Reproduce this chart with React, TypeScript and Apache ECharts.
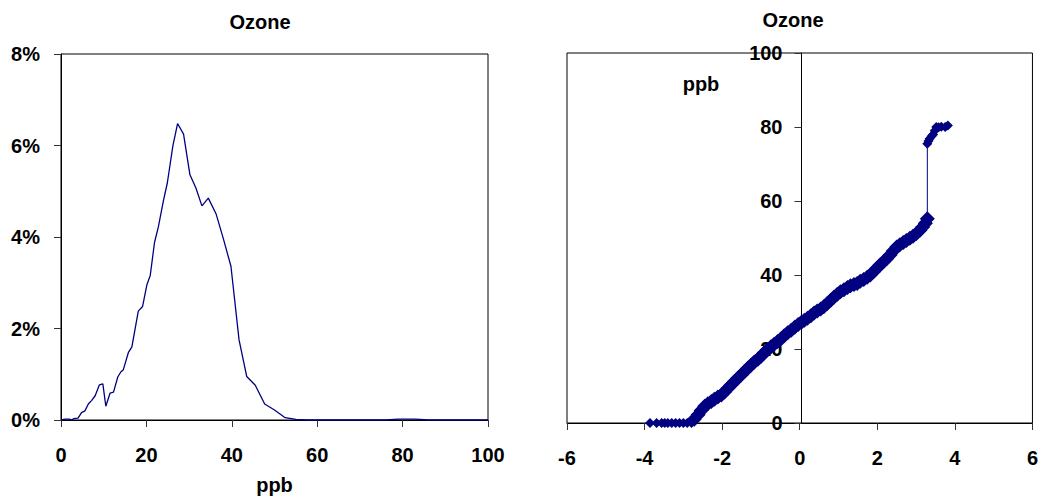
import React, { useEffect, useRef } from 'react';
import * as echarts from 'echarts';

// Left chart: frequency distribution of ozone (ppb vs % of hours)
const histPpb = [0, 1, 2, 2.5, 3, 4, 4.8, 5.6, 6.4, 7.2, 8, 9, 9.8, 10.5, 11.5, 12.3, 13.3, 14, 14.6, 15.8, 16.6, 18.1, 19.1, 20.1, 20.9, 21.9, 22.8, 24, 24.9, 26.2, 27.3, 28.7, 30.2, 31.6, 33, 34.5, 36.3, 38, 39.8, 41.7, 43.5, 45.5, 47.7, 50, 52.5, 55, 57.5, 76, 79, 83, 86, 100];
const histPct = [0, 0.02, 0.02, 0, 0.03, 0.04, 0.16, 0.2, 0.35, 0.43, 0.53, 0.77, 0.79, 0.3, 0.59, 0.61, 0.94, 1.05, 1.1, 1.48, 1.6, 2.38, 2.48, 2.95, 3.16, 3.88, 4.22, 4.8, 5.18, 5.99, 6.48, 6.25, 5.36, 5.07, 4.68, 4.85, 4.51, 3.97, 3.36, 1.75, 0.95, 0.76, 0.35, 0.22, 0.05, 0.015, 0, 0, 0.02, 0.02, 0, 0];

// Right chart: normal probability plot (z score vs ppb)
const qqZ = [-3.86, -3.69, -3.56, -3.48, -3.4, -3.3, -3.2, -3.1, -3.0, -2.9, -2.79, -2.72, -2.62, -2.54, -2.45, -2.37, -2.28, -2.2, -2.11, -2.02, -1.94, -1.85, -1.77, -1.68, -1.6, -1.51, -1.42, -1.34, -1.25, -1.17, -1.08, -1.0, -0.92, -0.83, -0.74, -0.66, -0.57, -0.48, -0.4, -0.31, -0.22, -0.13, -0.04, 0.05, 0.12, 0.2, 0.29, 0.37, 0.45, 0.54, 0.62, 0.71, 0.8, 0.88, 0.97, 1.05, 1.14, 1.23, 1.31, 1.4, 1.48, 1.56, 1.65, 1.74, 1.82, 1.9, 1.99, 2.07, 2.16, 2.24, 2.33, 2.41, 2.5, 2.58, 2.67, 2.75, 2.84, 2.92, 3.01, 3.1, 3.17, 3.24, 3.29, 3.29, 3.32, 3.35, 3.4, 3.44, 3.48, 3.52, 3.58, 3.65, 3.75, 3.82];
const qqPpb = [0, 0, 0, 0, 0, 0, 0, 0, 0, 0, 0, 1, 2.2, 3.4, 4.5, 5.2, 5.8, 6.4, 7, 7.6, 8.4, 9.4, 10.3, 11.2, 12.1, 13, 13.9, 14.8, 15.7, 16.5, 17.2, 18, 18.9, 19.8, 20.6, 21.3, 22, 22.8, 23.6, 24.4, 25.1, 25.9, 26.6, 27.3, 27.8, 28.3, 29, 29.7, 30.3, 30.8, 31.4, 32.3, 33.2, 34, 34.8, 35.5, 36, 36.6, 37.1, 37.4, 37.7, 38.3, 38.8, 39.4, 40, 40.9, 41.8, 42.7, 43.6, 44.4, 45.4, 46.5, 47.6, 48.2, 48.8, 49.3, 49.9, 50.5, 51.2, 52.1, 53, 54, 55.2, 75.5, 76.2, 76.8, 77.5, 78, 79, 80, 79.9, 80.1, 80, 80.4];

const titleText = 'Ozone';
const unitText = 'ppb';

export default function App() {
  const ref = useRef<HTMLDivElement>(null);
  useEffect(() => {
    const chart = echarts.init(ref.current as HTMLDivElement, null, { renderer: 'svg' });
    const font = '"Liberation Sans", Arial, sans-serif';
    const lbl = { fontFamily: font, fontWeight: 'bold', fontSize: 20, color: '#000' };
    const axisLine = { show: true, onZero: false, lineStyle: { color: '#000', width: 1 } };
    const axisTick = { show: true, length: 7, inside: false, lineStyle: { color: '#333', width: 1 } };
    const titleFont = `bold 20px ${font}`;
    const rightLeft = 567;
    const rightWidth = 469;
    chart.setOption({
      animation: false,
      backgroundColor: '#fff',
      textStyle: { fontFamily: font },
      grid: [
        { left: 61, top: 54, width: 427, height: 369, show: true, borderColor: '#000', borderWidth: 1, containLabel: false },
        { left: rightLeft, top: 53, width: rightWidth, height: 370, show: true, borderColor: '#000', borderWidth: 1, containLabel: false },
      ],
      xAxis: [
        {
          gridIndex: 0, type: 'value', min: 0, max: 100, interval: 20,
          name: unitText, nameLocation: 'middle', nameGap: 55, nameTextStyle: lbl,
          axisLine, axisTick, axisLabel: { ...lbl, margin: 25 }, splitLine: { show: false },
        },
        {
          gridIndex: 1, type: 'value', min: -6, max: 6, interval: 2,
          axisLine, axisTick, axisLabel: { ...lbl, margin: 25 }, splitLine: { show: false },
        },
      ],
      yAxis: [
        {
          gridIndex: 0, type: 'value', min: 0, max: 8, interval: 2,
          axisLine, axisTick, axisLabel: { ...lbl, margin: 21, formatter: '{value}%' }, splitLine: { show: false },
        },
        {
          gridIndex: 1, type: 'value', min: 0, max: 100, interval: 20, position: 'left',
          offset: -rightWidth / 2,
          axisLine, axisTick, axisLabel: { ...lbl, margin: 19 }, splitLine: { show: false },
        },
      ],
      graphic: [
        { type: 'text', x: 260, y: 22, style: { text: titleText, font: titleFont, fill: '#000', textAlign: 'center', textVerticalAlign: 'middle', align: 'center', verticalAlign: 'middle' } },
        { type: 'text', x: 793, y: 20, style: { text: titleText, font: titleFont, fill: '#000', textAlign: 'center', textVerticalAlign: 'middle', align: 'center', verticalAlign: 'middle' } },
        { type: 'text', x: 701, y: 84, style: { text: unitText, font: titleFont, fill: '#000', textAlign: 'center', textVerticalAlign: 'middle', align: 'center', verticalAlign: 'middle' } },
      ],
      series: [
        {
          type: 'line', xAxisIndex: 0, yAxisIndex: 0, showSymbol: false, symbol: 'none',
          data: histPpb.map((x, i) => [x, histPct[i]]),
          lineStyle: { color: '#000080', width: 1.3 }, itemStyle: { color: '#000080' },
        },
        {
          type: 'line', xAxisIndex: 1, yAxisIndex: 1, symbol: 'diamond', showSymbol: true,
          symbolSize: (v: number[]) => (v[1] > 0 && v[1] < 60 ? 15 : 10),
          data: qqZ.map((z, i) => [z, qqPpb[i]]),
          lineStyle: { color: '#000080', width: 1 },
          itemStyle: { color: '#000080', borderWidth: 0, opacity: 1 },
        },
      ],
    });
    return () => chart.dispose();
  }, []);
  return <div ref={ref} style={{ position: 'fixed', left: 0, top: 0, width: 1041, height: 500 }} />;
}
